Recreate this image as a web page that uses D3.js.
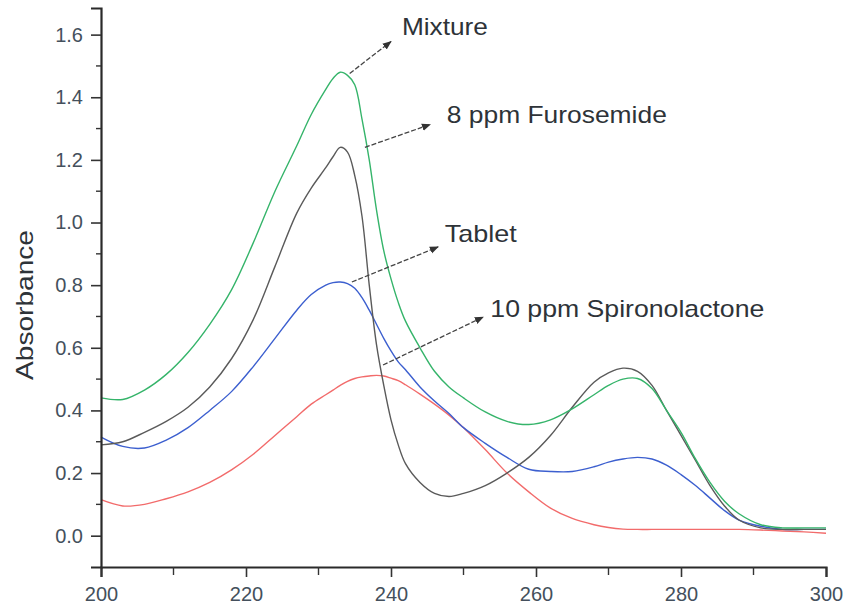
<!DOCTYPE html>
<html>
<head>
<meta charset="utf-8">
<script src="https://cdnjs.cloudflare.com/ajax/libs/d3/7.8.5/d3.min.js"></script>
<style>
    body { margin: 0; background: #fff; }
    svg { display: block; font-family: "Liberation Sans", Arial, sans-serif; }
    .tick-label { font-size: 20px; fill: #44505c; }
    .note { font-size: 24px; fill: #2e3338; }
</style>
</head>
<body>
<svg id="chart" width="847" height="614"></svg>
<script>
    // wavelength grid (nm)
    const wavelength = [200, 203, 206, 209, 212, 215, 218, 221, 224, 227, 229, 231, 232, 233, 234, 235,
        236, 237, 238, 239, 240, 241, 242, 244, 246, 248, 250, 253, 256, 259, 262, 265,
        268, 270, 272, 274, 276, 278, 280, 282, 284, 286, 288, 291, 294, 297, 300];

    const mixture = [0.44, 0.435, 0.465, 0.515, 0.585, 0.675, 0.785, 0.935, 1.1, 1.245, 1.345, 1.425, 1.46, 1.48, 1.47, 1.44,
        1.33, 1.2, 1.04, 0.91, 0.82, 0.745, 0.685, 0.6, 0.525, 0.475, 0.44, 0.395, 0.365, 0.355, 0.37, 0.405,
        0.45, 0.48, 0.5, 0.502, 0.47, 0.4, 0.33, 0.245, 0.17, 0.11, 0.07, 0.035, 0.025, 0.025, 0.025];

    const furosemide = [0.29, 0.3, 0.33, 0.365, 0.41, 0.475, 0.565, 0.69, 0.86, 1.03, 1.11, 1.175, 1.21, 1.24, 1.225, 1.15,
        1.02, 0.8, 0.61, 0.48, 0.37, 0.29, 0.23, 0.17, 0.135, 0.125, 0.135, 0.16, 0.2, 0.25, 0.32, 0.41,
        0.49, 0.52, 0.535, 0.525, 0.48, 0.4, 0.32, 0.24, 0.16, 0.095, 0.05, 0.025, 0.02, 0.02, 0.02];

    const tablet = [0.315, 0.285, 0.28, 0.305, 0.345, 0.4, 0.46, 0.54, 0.63, 0.72, 0.77, 0.8, 0.808, 0.81, 0.805, 0.79,
        0.76, 0.72, 0.675, 0.63, 0.59, 0.555, 0.53, 0.475, 0.43, 0.39, 0.345, 0.295, 0.25, 0.212, 0.205, 0.205,
        0.22, 0.235, 0.245, 0.25, 0.245, 0.225, 0.195, 0.16, 0.12, 0.08, 0.05, 0.03, 0.02, 0.02, 0.02];

    const spironolactone = [0.115, 0.095, 0.1, 0.118, 0.14, 0.17, 0.21, 0.26, 0.32, 0.38, 0.42, 0.45, 0.465, 0.48, 0.493, 0.502,
        0.507, 0.51, 0.512, 0.51, 0.503, 0.495, 0.482, 0.452, 0.42, 0.385, 0.345, 0.275, 0.2, 0.14, 0.088, 0.055,
        0.035, 0.026, 0.021, 0.02, 0.02, 0.02, 0.02, 0.02, 0.02, 0.02, 0.02, 0.018, 0.015, 0.012, 0.008];

    const xTicks = [200, 220, 240, 260, 280, 300];
    const xMinor = [210, 230, 250, 270, 290];
    const yTicks = [0.0, 0.2, 0.4, 0.6, 0.8, 1.0, 1.2, 1.4, 1.6];
    const yMinor = [0.1, 0.3, 0.5, 0.7, 0.9, 1.1, 1.3, 1.5];

    // label, arrow start [nm, A], arrow end [nm, A], text anchor [nm, A]
    const notes = [
        { label: "Mixture", from: [234.3, 1.476], to: [240.0, 1.578], at: [241.5, 1.6], w: 86 },
        { label: "8 ppm Furosemide", from: [236.4, 1.24], to: [245.4, 1.313], at: [247.7, 1.318], w: 220 },
        { label: "Tablet", from: [234.6, 0.81], to: [246.5, 0.922], at: [247.4, 0.937], w: 72 },
        { label: "10 ppm Spironolactone", from: [238.9, 0.545], to: [252.7, 0.698], at: [253.7, 0.698], w: 274 }
    ];

    const series = [
        { values: spironolactone, color: "#f26b6b" },
        { values: tablet, color: "#3c5fcf" },
        { values: furosemide, color: "#5a5a5a" },
        { values: mixture, color: "#35b46a" }
    ];

    const svg = d3.select("#chart");
    const x = d3.scaleLinear().domain([200, 300]).range([101, 826]);
    const y = d3.scaleLinear().domain([-0.1, 1.685]).range([567, 8]);

    // curves
    const line = d3.line()
        .x((d, i) => x(wavelength[i]))
        .y(d => y(d))
        .curve(d3.curveCatmullRom.alpha(0.5));

    svg.selectAll(".curve")
        .data(series)
        .enter()
        .append("path")
        .attr("class", "curve")
        .attr("fill", "none")
        .attr("stroke", d => d.color)
        .attr("stroke-width", 1.4)
        .attr("d", d => line(d.values));

    // axes
    const xAxis = svg.append("g").attr("transform", `translate(0,${y(-0.1)})`);
    xAxis.call(d3.axisBottom(x).tickValues(xTicks).tickSize(10).tickFormat(d3.format("d")))
        .call(g => g.select(".domain").attr("stroke", "#2a2a2a").attr("stroke-width", 2.2));
    xAxis.selectAll(".tick line").attr("stroke", "#333").attr("stroke-width", 1.6);
    xAxis.selectAll(".tick text").attr("class", "tick-label").attr("dy", "1.05em").attr("font-size", null).attr("font-family", null).attr("fill", null);
    xAxis.selectAll(".minor").data(xMinor).enter().append("line")
        .attr("x1", d => x(d)).attr("x2", d => x(d))
        .attr("y1", 0).attr("y2", 8)
        .attr("stroke", "#333").attr("stroke-width", 1.4);

    const yAxis = svg.append("g").attr("transform", `translate(${x(200)},0)`);
    yAxis.call(d3.axisLeft(y).tickValues(yTicks).tickSize(10).tickFormat(d3.format(".1f")))
        .call(g => g.select(".domain").attr("stroke", "#2a2a2a").attr("stroke-width", 2.2));
    yAxis.selectAll(".tick line").attr("stroke", "#333").attr("stroke-width", 1.6);
    yAxis.selectAll(".tick text").attr("class", "tick-label").attr("x", -18).attr("font-size", null).attr("font-family", null).attr("fill", null);
    yAxis.selectAll(".minor").data(yMinor).enter().append("line")
        .attr("x1", -5).attr("x2", 0)
        .attr("y1", d => y(d)).attr("y2", d => y(d))
        .attr("stroke", "#333").attr("stroke-width", 1.4);

    svg.append("text")
        .attr("class", "note")
        .attr("transform", `translate(33,${305}) rotate(-90)`)
        .attr("text-anchor", "middle")
        .attr("textLength", 150)
        .attr("lengthAdjust", "spacingAndGlyphs")
        .attr("font-size", 23)
        .text("Absorbance");

    // annotation arrows
    svg.append("defs").append("marker")
        .attr("id", "head")
        .attr("viewBox", "0 0 10 10")
        .attr("refX", 9).attr("refY", 5)
        .attr("markerWidth", 7).attr("markerHeight", 7)
        .attr("orient", "auto")
        .append("path")
        .attr("d", "M0,1 L10,5 L0,9 Z")
        .attr("fill", "#333");

    svg.selectAll(".arrow")
        .data(notes)
        .enter()
        .append("line")
        .attr("class", "arrow")
        .attr("x1", d => x(d.from[0])).attr("y1", d => y(d.from[1]))
        .attr("x2", d => x(d.to[0])).attr("y2", d => y(d.to[1]))
        .attr("stroke", "#444")
        .attr("stroke-width", 1.3)
        .attr("stroke-dasharray", "5,2")
        .attr("marker-end", "url(#head)");

    svg.selectAll(".note-label")
        .data(notes)
        .enter()
        .append("text")
        .attr("class", "note")
        .attr("x", d => x(d.at[0]))
        .attr("y", d => y(d.at[1]))
        .attr("textLength", d => d.w)
        .attr("lengthAdjust", "spacingAndGlyphs")
        .text(d => d.label);
</script>
</body>
</html>
